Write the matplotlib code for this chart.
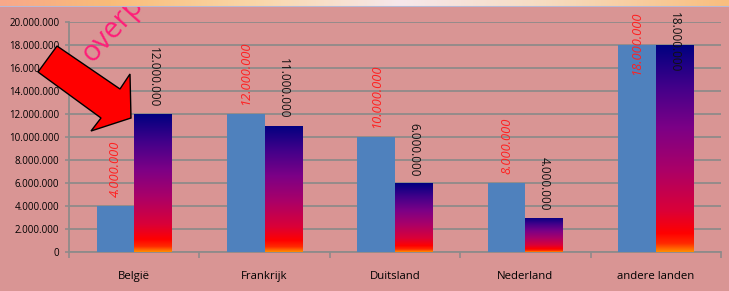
import numpy as np
import matplotlib.pyplot as plt
from matplotlib.colors import LinearSegmentedColormap
from matplotlib.patches import Polygon

# data
landen = ['België', 'Frankrijk', 'Duitsland', 'Nederland', 'andere landen']
serie_blauw = [4000000, 12000000, 10000000, 6000000, 18000000]
serie_verloop = [12000000, 11000000, 6000000, 3000000, 18000000]
labels_rood = ['4.000.000', '12.000.000', '10.000.000', '8.000.000', '18.000.000']
labels_zwart = ['12.000.000', '11.000.000', '6.000.000', '4.000.000', '18.000.000']
y_ticks = list(range(0, 20000001, 2000000))

W, H = 729, 291
bg = '#D99594'
grid_c = '#8F8A8A'

def fmt(v):
    return '{:,}'.format(v).replace(',', '.')

fig = plt.figure(figsize=(W / 100, H / 100), dpi=100, facecolor=bg)
ax = fig.add_axes([69 / W, 1 - 252 / H, 652 / W, 230 / H])
ax.set_facecolor(bg)

x = np.arange(len(landen))
w = 0.288
ymax = 20000000

ax.bar(x - w / 2, serie_blauw, width=w, color='#4F81BD', zorder=3)
grad_bars = ax.bar(x + w / 2, serie_verloop, width=w, color='none', zorder=3)

cmap = LinearSegmentedColormap.from_list('verloop', [
    (0.0, '#FF8A00'), (0.04, '#FF2A00'), (0.09, '#FF0000'), (0.2, '#DA0038'),
    (0.4, '#AA0068'), (0.6, '#7C0086'), (0.8, '#42008A'), (1.0, '#000080')])
grad = np.linspace(0, 1, 256).reshape(-1, 1)
for b in grad_bars:
    x0 = b.get_x()
    im = ax.imshow(grad, cmap=cmap, origin='lower', aspect='auto', zorder=3,
                   extent=[x0, x0 + b.get_width(), 0, b.get_height()])
    im.set_clip_path(b)

ax.set_xlim(-0.5, len(landen) - 0.5)
ax.set_ylim(0, ymax)

# value labels (text as in the original, not tied to bar heights)
for i in range(len(landen)):
    if serie_blauw[i] >= 18000000:
        yr, va_r = ymax + 900000, 'top'
    else:
        yr, va_r = serie_blauw[i] + 800000, 'bottom'
    if serie_verloop[i] >= 18000000:
        yz, va_z = ymax + 900000, 'top'
    else:
        yz, va_z = serie_verloop[i] + 600000, 'bottom'
    ax.text(x[i] - w / 2, yr, labels_rood[i], rotation=90, color='#FF2020',
            style='italic', fontsize=9.3, ha='center', va=va_r,
            family='Open Sans', zorder=5, clip_on=False)
    ax.text(x[i] + w / 2, yz, labels_zwart[i], rotation=270, color='#111111',
            fontsize=8.5, ha='center', va=va_z,
            family='Open Sans', zorder=5, clip_on=False)

ax.set_yticks(y_ticks)
ax.set_yticklabels([fmt(v) for v in y_ticks], family='Open Sans', fontsize=7)
ax.set_xticks(np.arange(len(landen) + 1) - 0.5, minor=False)
ax.set_xticklabels([])
ax.set_xticks(x, minor=True)
ax.set_xticklabels(landen, minor=True, family='Open Sans', fontsize=8.2)
ax.tick_params(axis='x', which='minor', length=0, pad=14)
ax.tick_params(axis='x', which='major', length=4, color=grid_c, width=1.2)
ax.tick_params(axis='y', length=3, color=grid_c, width=1.2, pad=4)
ax.grid(axis='y', color=grid_c, lw=1.3, zorder=1)
for s in ['top', 'right']:
    ax.spines[s].set_visible(False)
for s in ['left', 'bottom']:
    ax.spines[s].set_color(grid_c)
    ax.spines[s].set_linewidth(1.3)

# red arrow
pts = [(57, 46), (120, 89), (130, 74), (131, 118), (91, 131), (101, 118), (38, 72)]
arrow = Polygon([(px / W, 1 - py / H) for px, py in pts], closed=True,
                transform=fig.transFigure, facecolor='#FF0000', edgecolor='black',
                lw=1.0, zorder=10)
fig.patches.append(arrow)

fig.text(92 / W, 1 - 63 / H, 'overp', rotation=48, rotation_mode='anchor',
         color='#FF1E78', fontsize=21, family='Open Sans', ha='left',
         va='baseline', zorder=11)

# top strip
strip = fig.add_axes([0, 1 - 7 / H, 1, 7 / H], zorder=20)
strip_cmap = LinearSegmentedColormap.from_list('strip', [
    (0.0, '#F7A88A'), (0.15, '#F9BC78'), (0.35, '#FAD7A8'), (0.55, '#F6E8EC'),
    (0.75, '#F6DCC0'), (1.0, '#F9BE7E')])
strip.imshow(np.linspace(0, 1, 256).reshape(1, -1), cmap=strip_cmap,
             aspect='auto', extent=[0, 1, 0, 1])
strip.axhline(0.05, color='#B7B9D6', lw=1.5)
strip.set_axis_off()

fig.savefig('out.png', dpi=100, facecolor=bg)
